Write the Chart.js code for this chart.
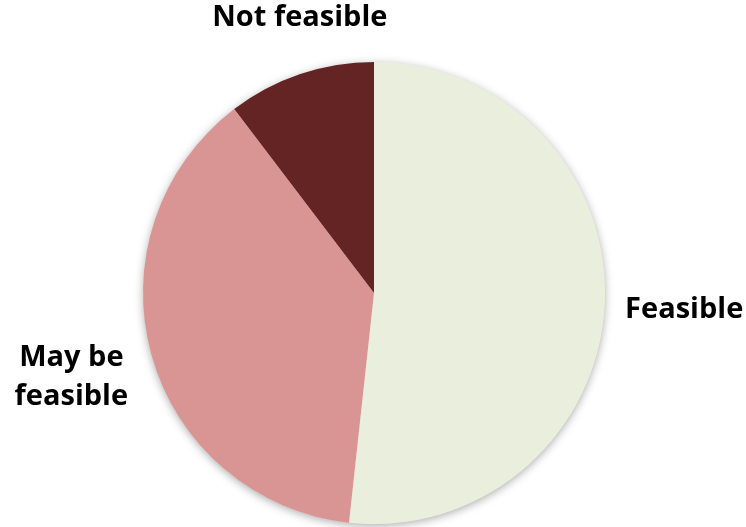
<!DOCTYPE html>
<html>
<head>
<meta charset="utf-8">
<script src="https://cdn.jsdelivr.net/npm/chart.js@4/dist/chart.umd.min.js"></script>
<style>
    html, body { margin: 0; padding: 0; background: #ffffff; }
    #wrap { width: 746px; height: 527px; position: relative; }
</style>
</head>
<body>
<div id="wrap"><canvas id="feasChart"></canvas></div>
<script>
// Data
const categories = ['Feasible', 'May be feasible', 'Not feasible'];
const counts = [15, 11, 3];
const sliceColors = ['#EAEEDD', '#D99594', '#632423'];
// label text split into lines, as in the original
const labelLines = [['Feasible'], ['May be', 'feasible'], ['Not feasible']];

const LABEL_FONT = 'bold 29px "Open Sans", Lato, sans-serif';
const LINE_H = 39;
const CAP_BOX = 24;
const LABEL_GAP = 20;

// soft drop shadow behind the whole pie
const pieShadow = {
    id: 'pieShadow',
    beforeDatasetsDraw(chart) {
        const arc = chart.getDatasetMeta(0).data[0];
        if (!arc) return;
        const ctx = chart.ctx;
        ctx.save();
        ctx.shadowColor = 'rgba(0, 0, 0, 0.35)';
        ctx.shadowBlur = 10;
        ctx.shadowOffsetY = 2;
        ctx.fillStyle = '#ffffff';
        ctx.beginPath();
        ctx.arc(arc.x, arc.y, arc.outerRadius - 0.5, 0, Math.PI * 2);
        ctx.fill();
        ctx.restore();
    }
};

// category names outside the slices, along each slice's mid angle
const outsideLabels = {
    id: 'outsideLabels',
    afterDatasetsDraw(chart) {
        const ctx = chart.ctx;
        ctx.save();
        ctx.font = LABEL_FONT;
        ctx.fillStyle = '#000000';
        ctx.textAlign = 'center';
        ctx.textBaseline = 'middle';
        chart.getDatasetMeta(0).data.forEach((arc, i) => {
            const lines = labelLines[i];
            const w = Math.max(...lines.map(l => ctx.measureText(l).width));
            const h = lines.length * LINE_H;
            const boxH = (lines.length - 1) * LINE_H + CAP_BOX;
            const mid = (arc.startAngle + arc.endAngle) / 2;
            const dx = Math.cos(mid), dy = Math.sin(mid);
            const extent = Math.abs(dx) * w / 2 + Math.abs(dy) * boxH / 2;
            const dist = arc.outerRadius + LABEL_GAP + extent;
            // labels near the top sit a little closer to the vertical
            const cx = arc.x + dx * dist * (Math.abs(dy) > 0.9 ? 0.8 : 1);
            const cy = arc.y + dy * dist;
            lines.forEach((line, k) => {
                ctx.fillText(line, cx, cy - h / 2 + LINE_H * (k + 0.5));
            });
        });
        ctx.restore();
    }
};

new Chart(document.getElementById('feasChart'), {
    type: 'pie',
    data: {
        labels: categories,
        datasets: [{
            data: counts,
            backgroundColor: sliceColors,
            borderWidth: 0
        }]
    },
    options: {
        responsive: true,
        maintainAspectRatio: false,
        animation: false,
        layout: {
            padding: { top: 62, bottom: 3, left: 2, right: 0 }
        },
        plugins: {
            legend: { display: false },
            tooltip: { enabled: false }
        }
    },
    plugins: [pieShadow, outsideLabels]
});
</script>
</body>
</html>
